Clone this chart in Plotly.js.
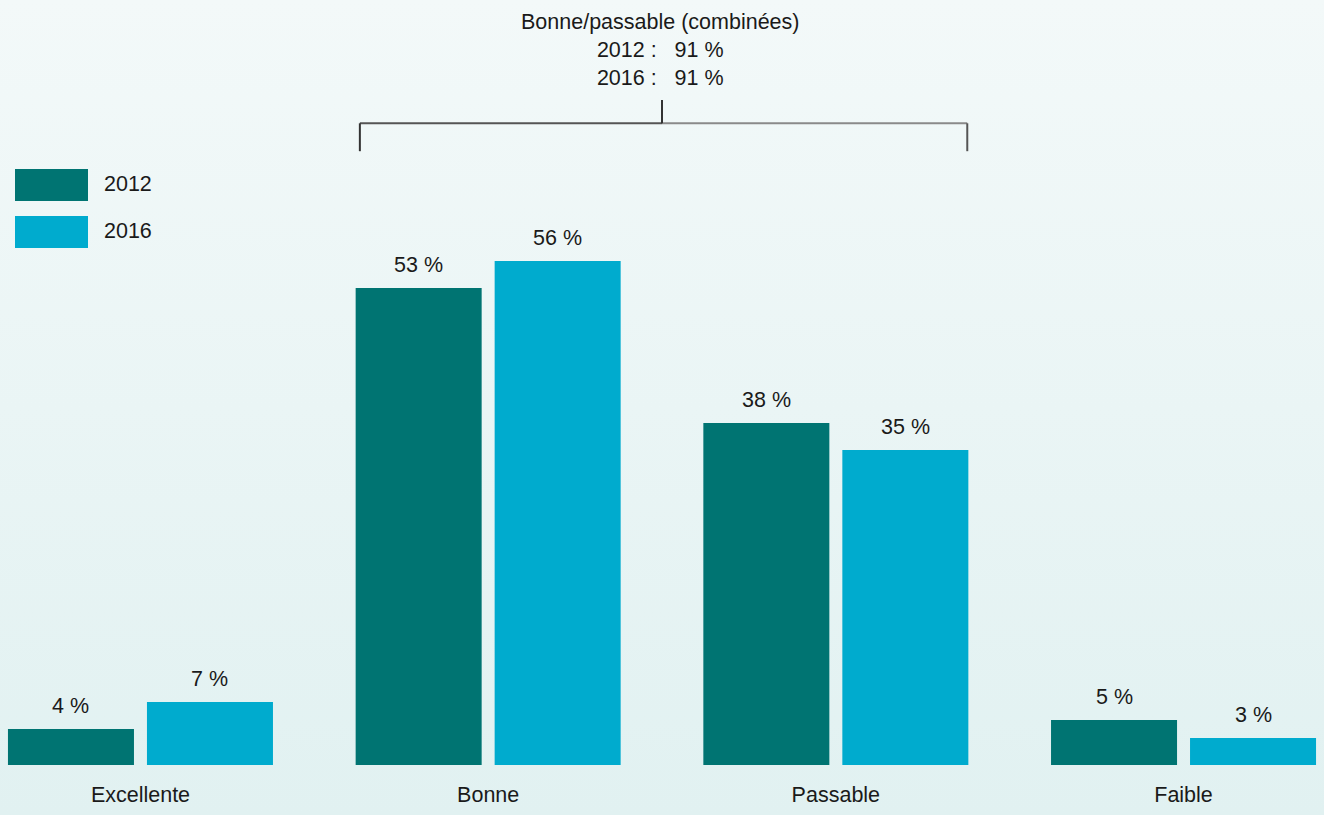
<!DOCTYPE html>
<html>
<head>
<meta charset="utf-8">
<script src="https://cdn.plot.ly/plotly-3.0.1.min.js"></script>
<style>
html,body{margin:0;padding:0;}
#chart{width:1324px;height:815px;background:linear-gradient(to bottom,#f3f9f9 0%,#e1f1f1 100%);}
</style>
</head>
<body>
<div id="chart"></div>
<script>
var categories = ["Excellente", "Bonne", "Passable", "Faible"];
var series2012 = [4, 53, 38, 5];
var series2016 = [7, 56, 35, 3];
var seriesNames = ["2012", "2016"];
var combinedLabel = "Bonne/passable (combinées)";
var combined2012 = 91;
var combined2016 = 91;

var colors = ["#007472", "#00abce"];
var xIdx = categories.map(function(c, i){ return i; });
var FONT = "Liberation Sans, Arial, sans-serif";
var FS = 21.5;

var traces = [
  {type: "bar", x: xIdx, y: series2012, name: seriesNames[0], marker: {color: colors[0]}, hoverinfo: "none"},
  {type: "bar", x: xIdx, y: series2016, name: seriesNames[1], marker: {color: colors[1]}, hoverinfo: "none"}
];

var annotations = [];
[series2012, series2016].forEach(function(s, k){
  s.forEach(function(v, i){
    annotations.push({
      x: i, y: v, xref: "x", yref: "y", text: v + "\u00a0%", showarrow: false,
      xshift: k === 0 ? -69.5 : 69.5, yanchor: "bottom", yshift: 9,
      font: {family: FONT, size: FS, color: "#1a1a1a"}
    });
  });
});
annotations.push({
  x: 1.5, y: 1, xref: "x", yref: "paper", yanchor: "top", yshift: -8, xshift: -2,
  showarrow: false, align: "center",
  text: combinedLabel + "<br>" + seriesNames[0] + "\u00a0:\u00a0\u00a0\u00a0" + combined2012 + "\u00a0%<br>" +
        seriesNames[1] + "\u00a0:\u00a0\u00a0\u00a0" + combined2016 + "\u00a0%",
  font: {family: FONT, size: FS, color: "#1a1a1a"}
});

var W = 1324, H = 815;
function px(x){ return x / W; }
function py(y){ return 1 - y / 765; }

seriesNames.forEach(function(n, k){
  annotations.push({
    x: px(102), y: py(184 + 47 * k), xref: "paper", yref: "paper", text: n, showarrow: false,
    xanchor: "left", yanchor: "middle",
    font: {family: FONT, size: FS, color: "#1a1a1a"}
  });
});

var shapes = [];
seriesNames.forEach(function(n, k){
  shapes.push({type: "rect", xref: "paper", yref: "paper",
    x0: px(15), x1: px(88), y0: py(169 + 47 * k), y1: py(201 + 47 * k),
    fillcolor: colors[k], line: {width: 0}});
});
// bracket
var bx0 = 0.631, bx1 = 2.378, by = 71.3;
shapes.push({type: "line", xref: "x", yref: "y", x0: bx0, x1: 1.5, y0: by, y1: by, line: {color: "#555", width: 2}});
shapes.push({type: "line", xref: "x", yref: "y", x0: 1.5, x1: bx1, y0: by, y1: by, line: {color: "#8a8a8a", width: 2}});
shapes.push({type: "line", xref: "x", yref: "y", x0: bx0, x1: bx0, y0: by, y1: 68.2, line: {color: "#333", width: 2}});
shapes.push({type: "line", xref: "x", yref: "y", x0: bx1, x1: bx1, y0: by, y1: 68.2, line: {color: "#555", width: 2}});
shapes.push({type: "line", xref: "x", yref: "y", x0: 1.5, x1: 1.5, y0: by, y1: 73.9, line: {color: "#333", width: 2}});

var layout = {
  width: W, height: H,
  margin: {l: 0, r: 0, t: 0, b: 50},
  paper_bgcolor: "rgba(0,0,0,0)", plot_bgcolor: "rgba(0,0,0,0)",
  barmode: "group", bargap: 0.2004, bargroupgap: 0.0935,
  showlegend: false,
  xaxis: {
    range: [-0.404, 3.404], tickvals: xIdx, ticktext: categories,
    showgrid: false, zeroline: false, showline: false,
    ticks: "outside", ticklen: 10, tickcolor: "rgba(0,0,0,0)",
    tickfont: {family: FONT, size: FS, color: "#1a1a1a"}, fixedrange: true
  },
  yaxis: {
    range: [0, 85], visible: false, showgrid: false, zeroline: false, fixedrange: true
  },
  annotations: annotations,
  shapes: shapes,
  font: {family: FONT}
};

Plotly.newPlot("chart", traces, layout, {displayModeBar: false, staticPlot: true});
</script>
</body>
</html>
